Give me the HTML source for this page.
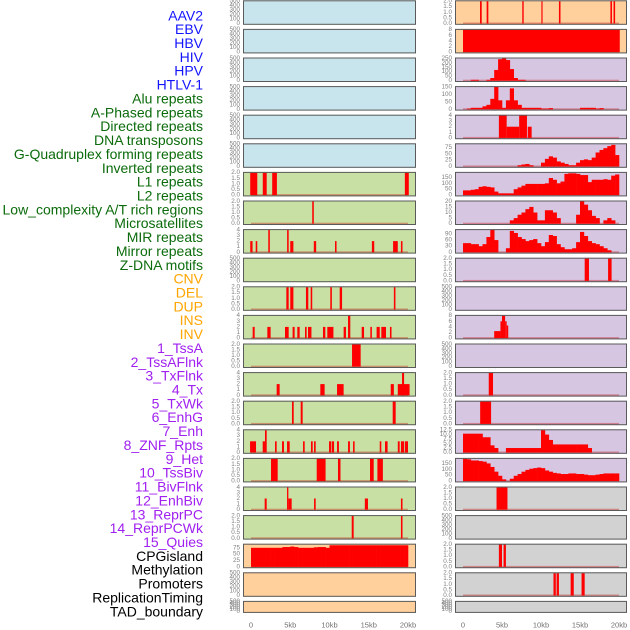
<!DOCTYPE html>
<html><head><meta charset="utf-8"><style>
html,body{margin:0;padding:0;background:#fff;width:630px;height:630px;overflow:hidden}
svg{display:block;font-family:"Liberation Sans",sans-serif}
</style></head><body>
<svg id="chart" width="630" height="630" viewBox="0 0 630 630" xmlns="http://www.w3.org/2000/svg"></svg>
<script>
// ---------- labels ----------
const trackLabels = ["AAV2","EBV","HBV","HIV","HPV","HTLV-1","Alu repeats","A-Phased repeats","Directed repeats","DNA transposons","G-Quadruplex forming repeats","Inverted repeats","L1 repeats","L2 repeats","Low_complexity A/T rich regions","Microsatellites","MIR repeats","Mirror repeats","Z-DNA motifs","CNV","DEL","DUP","INS","INV","1_TssA","2_TssAFlnk","3_TxFlnk","4_Tx","5_TxWk","6_EnhG","7_Enh","8_ZNF_Rpts","9_Het","10_TssBiv","11_BivFlnk","12_EnhBiv","13_ReprPC","14_ReprPCWk","15_Quies","CPGisland","Methylation","Promoters","ReplicationTiming","TAD_boundary"];
const labelGroups = [6,13,5,15,5]; // viral, repeats, SV, chromatin, other
const groupColors = ["#1414ff","#0b6b0b","#ffa500","#a020f0","#000000"];
const xTickValues = [0,5,10,15,20];
const xTickLabels = ["0","5kb","10kb","15kb","20kb"];

// ---------- left column data (segments: [startKb,endKb,value]) ----------
const L6 = [[-0.1,0.8,2],[1.5,2.0,2],[2.7,3.3,2],[19.6,20.1,2]];
const L7 = [[7.8,8.0,2]];
const L8 = [[-0.1,0.2,2],[0.6,0.8,2],[2.2,2.4,4],[4.6,4.8,4],[5.0,5.4,2],[8.0,8.3,2],[10.7,10.9,2],[15.4,15.7,2],[18.1,18.7,2],[19.1,19.3,2]];
const L10 = [[4.5,4.8,2],[5.0,5.4,2],[7.0,7.3,2],[7.6,7.8,2],[10.1,10.3,2],[11.3,11.6,2],[18.2,18.4,2]];
const L11 = [[0.21,0.47,2],[2.08,2.5,2],[4.33,4.8,2],[5.3,5.56,2],[5.9,6.2,2],[6.88,7.09,2],[7.26,7.7,2],[9.17,9.47,2],[9.72,10.5,2],[11.8,12.1,2],[12.36,12.65,4],[14.1,14.4,2],[15.2,15.4,2],[16.0,16.4,2],[16.6,17.2,2],[17.7,17.9,2]];
const L12 = [[12.87,13.97,2]];
const L13 = [[3.27,3.65,2],[8.83,9.38,2],[10.96,11.8,2],[17.8,18.2,2],[18.7,19.3,2],[19.3,20.2,2],[19.24,19.5,4]];
const L14 = [[5.22,5.44,2],[6.33,6.58,2],[18.05,18.43,2]];
const L15 = [[-0.12,0.64,2],[1.49,1.78,2],[1.78,2.0,4],[3.06,3.27,2],[3.95,4.2,2],[4.59,4.93,2],[6.63,6.84,2],[7.64,7.86,2],[8.03,8.24,2],[9.94,10.2,2],[10.28,10.58,2],[10.96,11.2,2],[12.36,12.6,2],[13.0,13.2,2],[16.4,16.6,2],[17.07,17.4,2],[18.7,18.94,2],[19.1,19.5,2],[19.6,20.0,2]];
const L16 = [[2.55,3.4,2],[8.37,9.5,2],[11.08,11.4,2],[15.16,15.63,2],[16.1,16.8,2]];
const L17 = [[1.74,2.0,2],[4.59,4.76,4],[4.76,5.18,2],[8.03,8.24,2],[14.5,14.9,2],[19.1,19.3,2]];
const L18 = [[12.83,13.08,2],[19.1,19.3,2]];
// bins of 0.5kb
const L19 = [75,75,75,75,75,75,75,75,78,78,80,78,75,75,75,75,77,78,78,75,85,85,85,85,85,85,85,85,85,85,85,85,85,85,85,85,85,85,85,85];

// ---------- right column data ----------
const R0 = [[2.18,2.4,2],[3.03,3.25,2],[7.6,7.78,2],[10.05,10.2,2],[12.3,12.5,2],[18.9,19.1,2],[19.3,19.5,2]];
const R1 = [[0,20.1,8]];
const R2 = [0,0,10,10,0,0,10,30,120,240,250,230,130,30,10,10,0,0,0,0,0,0,0,0,0,0,0,0,0,0,0,0,0,0,0,0,0,0,0,0];
const R3 = [0,5,10,10,10,20,30,70,150,60,10,60,140,60,30,10,10,10,10,10,5,5,8,0,0,0,0,0,0,0,10,10,10,10,5,8,0,0,0,0];
const R4 = [[4.6,5.6,4],[5.6,7.2,2],[7.2,8.2,4],[8.3,8.8,2]];
const R5 = [0,0,0,0,0,0,0,0,0,0,0,0,0,0,5,8,10,5,0,0,15,30,40,35,20,15,10,5,5,15,25,28,25,35,55,65,72,80,85,45];
const R6 = [40,40,45,50,70,75,70,65,30,15,15,15,15,50,65,80,95,95,95,95,95,100,145,130,100,115,180,185,185,180,170,170,110,130,130,130,135,130,165,175];
const R7 = [0,0,0,0,0,0,0,0,0,0,0,0,3,5,8,10,13,15,10,3,3,12,12,10,5,0,0,0,0,8,20,17,12,7,5,0,3,5,3,0];
const R8 = [45,45,40,40,30,40,75,110,60,0,0,20,105,95,75,65,55,60,65,45,30,50,85,80,40,25,15,15,20,50,100,80,55,45,40,30,20,10,0,0];
const R9 = [[15.6,16.15,2],[18.6,19.05,2]];
const R11 = [[4.0,4.8,2.5],[4.8,5.0,6],[5.0,5.4,8],[5.4,5.6,6],[5.6,5.8,4.5]];
const R13 = [[3.3,3.85,2]];
const R14 = [[2.2,3.6,2]];
const R15 = [10.5,10.5,10.5,10.5,10.5,8.5,8.5,4,2.5,0,0,2.5,2.5,2.5,2.5,2.5,2.5,2.5,2.5,2.5,12.5,10,7,4.5,4.5,4.5,4.5,4.5,4.5,4.5,4.5,4.5,2.5,0,0,0,0,0,0,0];
const R16 = [190,185,175,175,170,165,150,120,80,45,15,0,20,45,60,80,95,105,110,115,110,90,80,70,65,60,60,65,65,60,60,55,50,50,55,60,65,65,65,65];
const R17 = [[4.3,5.7,2]];
const R19 = [[4.6,5.0,2],[5.2,5.5,2]];
const R20 = [[11.6,11.9,2],[12.0,12.3,2],[13.8,14.2,2],[15.2,15.6,2]];

// ---------- axis configs ----------
const T_EMPTY=[0,100,200,300,400,500], T2=[0,0.5,1,1.5,2], T4=[0,1,2,3,4];
const leftPanels = [
 {bg:"#c8e4ec",ymax:500,ticks:T_EMPTY},{bg:"#c8e4ec",ymax:500,ticks:T_EMPTY},{bg:"#c8e4ec",ymax:500,ticks:T_EMPTY},
 {bg:"#c8e4ec",ymax:500,ticks:T_EMPTY},{bg:"#c8e4ec",ymax:500,ticks:T_EMPTY},{bg:"#c8e4ec",ymax:500,ticks:T_EMPTY},
 {bg:"#c8e0a4",ymax:2,ticks:T2,dec:1,seg:L6},{bg:"#c8e0a4",ymax:2,ticks:T2,dec:1,seg:L7},
 {bg:"#c8e0a4",ymax:4,ticks:T4,seg:L8},{bg:"#c8e0a4",ymax:500,ticks:T_EMPTY},
 {bg:"#c8e0a4",ymax:2,ticks:T2,dec:1,seg:L10},{bg:"#c8e0a4",ymax:4,ticks:T4,seg:L11},
 {bg:"#c8e0a4",ymax:2,ticks:T2,dec:1,seg:L12},{bg:"#c8e0a4",ymax:4,ticks:T4,seg:L13},
 {bg:"#c8e0a4",ymax:2,ticks:T2,dec:1,seg:L14},{bg:"#c8e0a4",ymax:4,ticks:T4,seg:L15},
 {bg:"#c8e0a4",ymax:2,ticks:T2,dec:1,seg:L16},{bg:"#c8e0a4",ymax:4,ticks:T4,seg:L17},
 {bg:"#c8e0a4",ymax:2,ticks:T2,dec:1,seg:L18},{bg:"#ffd09c",ymax:88,ticks:[0,25,50,75],bins:L19},
 {bg:"#ffd09c",ymax:500,ticks:T_EMPTY},{bg:"#ffd09c",ymax:500,ticks:T_EMPTY}
];
const PU="#d6c6e2", GR="#d2d2d2";
const rightPanels = [
 {bg:"#ffd09c",ymax:2,ticks:T2,dec:1,seg:R0},{bg:"#ffd09c",ymax:8,ticks:[0,2,4,6,8],seg:R1},
 {bg:PU,ymax:250,ticks:[0,50,100,150,200,250],bins:R2},{bg:PU,ymax:150,ticks:[0,50,100,150],bins:R3},
 {bg:PU,ymax:4,ticks:T4,seg:R4},{bg:PU,ymax:88,ticks:[0,25,50,75],bins:R5},
 {bg:PU,ymax:190,ticks:[0,50,100,150],bins:R6},{bg:PU,ymax:20,ticks:[0,5,10,15,20],bins:R7},
 {bg:PU,ymax:110,ticks:[0,30,60,90],bins:R8},{bg:PU,ymax:2,ticks:T2,dec:1,seg:R9},
 {bg:PU,ymax:500,ticks:T_EMPTY},{bg:PU,ymax:8,ticks:[0,2,4,6,8],seg:R11},
 {bg:PU,ymax:500,ticks:T_EMPTY},{bg:PU,ymax:2,ticks:T2,dec:1,seg:R13},
 {bg:PU,ymax:2,ticks:T2,dec:1,seg:R14},{bg:PU,ymax:12.5,ticks:[0,2.5,5,7.5,10,12.5],dec:1,bins:R15},
 {bg:PU,ymax:190,ticks:[0,50,100,150],bins:R16},{bg:GR,ymax:2,ticks:T2,dec:1,seg:R17},
 {bg:GR,ymax:500,ticks:T_EMPTY},{bg:GR,ymax:2,ticks:T2,dec:1,seg:R19},
 {bg:GR,ymax:2,ticks:T2,dec:1,seg:R20},{bg:GR,ymax:500,ticks:T_EMPTY}
];

const NS="http://www.w3.org/2000/svg";
const svg=document.getElementById("chart");
function mk(tag,attrs,parent){const e=document.createElementNS(NS,tag);for(const k in attrs)e.setAttribute(k,attrs[k]);(parent||svg).appendChild(e);return e;}

// labels
let gi=0,cnt=0;
trackLabels.forEach((t,i)=>{
  while(cnt>=labelGroups[gi]){cnt=0;gi++;}
  cnt++;
  const e=mk("text",{x:203,y:15.3+i*13.86,"text-anchor":"end","dominant-baseline":"central","font-size":"14",fill:groupColors[gi]});
  e.textContent=t;
  
  
});

const cols=[{x0:243,x1:416,zero:251,kbPx:7.85,tickX:240,panels:leftPanels,name:"left"},
            {x0:455,x1:627,zero:463,kbPx:7.8,tickX:452,panels:rightPanels,name:"right"}];

cols.forEach(c=>{
  const xs=kb=>c.zero+kb*c.kbPx;
  c.panels.forEach((p,i)=>{
    const top=0.3+i*28.6, h=(i===21?12:24.5), bot=top+h;
    const y0=bot-1.3, yt=top+0.8;
    const ys=v=>y0-v/p.ymax*(y0-yt);
    const g=mk("g",{});
    
    
    const bg=mk("rect",{x:c.x0,y:top,width:c.x1-c.x0,height:h,fill:p.bg},g);
    
    
    // ticks
    p.ticks.forEach(t=>{
      const e=mk("text",{x:c.tickX,y:ys(t),"text-anchor":"end","dominant-baseline":"central","font-size":"6.3",fill:"#808080"},g);
      e.textContent=p.dec?t.toFixed(1):String(t);
      
      
    });
    const clip="clip-"+c.name+i;
    const cp=mk("clipPath",{id:clip},g);
    mk("rect",{x:c.x0,y:top,width:c.x1-c.x0,height:h},cp);
    const mg=mk("g",{"clip-path":"url(#"+clip+")"},g);
    if(p.seg||p.bins){
      const bl=mk("rect",{x:xs(0),y:y0-1,width:xs(20)-xs(0),height:2,fill:"rgba(200,0,0,0.35)"},mg);
      
      
    }
    if(p.seg){
      p.seg.forEach(s=>{
        const r=mk("rect",{x:xs(s[0]),y:ys(s[2]),width:Math.max(1,xs(s[1])-xs(s[0])),height:y0-ys(s[2]),fill:"#ff0000"},mg);
        
        
      });
    }
    if(p.bins){
      p.bins.forEach((v,k)=>{
        if(v<=0)return;
        const r=mk("rect",{x:xs(k*0.5),y:ys(v),width:xs(0.5)-xs(0)+0.3,height:y0-ys(v),fill:"#ff0000"},mg);
        
        
      });
    }
    const br=mk("rect",{x:c.x0+0.5,y:top+0.5,width:c.x1-c.x0-1,height:h-1,fill:"none",stroke:"#5a5a5a","stroke-width":"1"},g);
    
    
  });
  xTickValues.forEach((v,k)=>{
    const e=mk("text",{x:xs(v),y:625,"text-anchor":"middle","dominant-baseline":"central","font-size":"7.5",fill:"#707070"});
    e.textContent=xTickLabels[k];
    
    
  });
});
</script>
</body></html>
